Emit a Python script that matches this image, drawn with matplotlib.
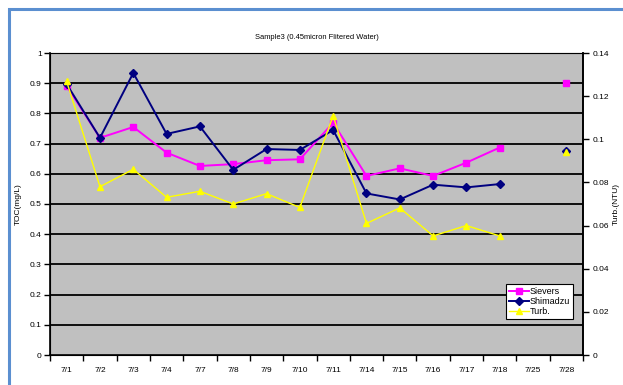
import numpy as np
import matplotlib
matplotlib.use("Agg")
import matplotlib.pyplot as plt
from matplotlib.patches import Rectangle

# Sampling dates and measured values (NaN = no sample that day)
dates = ["7/1", "7/2", "7/3", "7/4", "7/7", "7/8", "7/9", "7/10",
         "7/11", "7/14", "7/15", "7/16", "7/17", "7/18", "7/25", "7/28"]
sievers = [0.891, 0.719, 0.755, 0.670, 0.626, 0.632, 0.645, 0.648,
           0.769, 0.593, 0.618, 0.593, 0.637, 0.687, np.nan, 0.900]
shimadzu = [0.897, 0.719, 0.934, 0.732, 0.757, 0.613, 0.682, 0.679,
            0.745, 0.535, 0.515, 0.564, 0.555, 0.566, np.nan, 0.676]
turb = [0.1268, 0.0780, 0.0861, 0.0731, 0.0759, 0.0700, 0.0748, 0.0684,
        0.1109, 0.0610, 0.0682, 0.0552, 0.0600, 0.0552, np.nan, 0.0941]

plt.rcParams["font.family"] = "Liberation Sans"
plt.rcParams["font.size"] = 6

fig = plt.figure(figsize=(6.23, 3.85), dpi=100)
fig.patch.set_facecolor("white")

# blue chart-area frame (runs off the right and bottom edges)
fig.patches.append(Rectangle((9 / 623, -0.1), 1.2, 1 - 9 / 385 + 0.1,
                             transform=fig.transFigure, fill=False,
                             edgecolor="#5b8fd0", linewidth=2.2))

ax = fig.add_axes([50 / 623, 30 / 385, 533 / 623, 302 / 385])
ax.set_facecolor("#c0c0c0")
x = np.arange(len(dates))

ax.plot(x, sievers, color="#ff00ff", marker="s", ms=5, lw=1.4, label="Sievers")
ax.plot(x, shimadzu, color="#000080", marker="D", ms=3.8, lw=1.4, label="Shimadzu")

ax.set_xlim(-0.5, len(dates) - 0.5)
ax.set_ylim(0, 1)
ax.set_yticks(np.arange(0, 1.01, 0.1))
ax.set_yticklabels(["0", "0.1", "0.2", "0.3", "0.4", "0.5", "0.6", "0.7", "0.8", "0.9", "1"])
for yv in np.arange(0.1, 0.95, 0.1):
    ax.axhline(yv, color="black", lw=1.3, zorder=0.5)

# ticks on category boundaries, labels in the middle
ax.set_xticks(np.arange(-0.5, len(dates)), minor=False)
ax.set_xticklabels([])
ax.set_xticks(x, minor=True)
ax.set_xticklabels(dates, minor=True)
ax.tick_params(axis="x", which="major", direction="out", length=4, width=1)
ax.tick_params(axis="x", which="minor", length=0, pad=9)
ax.tick_params(axis="y", direction="out", length=4, width=1, pad=2)
ax.set_ylabel("TOC(mg/L)")
ax.yaxis.set_label_coords(-0.052, 0.5)

for s in ["left", "bottom", "right"]:
    ax.spines[s].set_color("black")
    ax.spines[s].set_linewidth(1.2)
ax.spines["top"].set_color("#808080")

ax2 = ax.twinx()
ax2.plot(x, turb, color="#ffff00", marker="^", ms=4.5, lw=1.0, label="Turb.")
ax2.set_ylim(0, 0.14)
ax2.set_yticks(np.arange(0, 0.141, 0.02))
ax2.set_yticklabels(["0", "0.02", "0.04", "0.06", "0.08", "0.1", "0.12", "0.14"])
ax2.tick_params(axis="y", direction="out", length=4, width=1, pad=3)
ax2.set_ylabel("Turb.(NTU)", rotation=90)
ax2.yaxis.set_label_coords(1.056, 0.5)
ax2.spines["right"].set_linewidth(1.2)

ax.set_title("Sample3 (0.45micron Flitered Water)", pad=10, fontsize=5.4)

h1, l1 = ax.get_legend_handles_labels()
h2, l2 = ax2.get_legend_handles_labels()
leg = ax2.legend(h1 + h2, l1 + l2, loc="upper left",
                 bbox_to_anchor=(506 / 623, 1 - 284 / 385),
                 bbox_transform=fig.transFigure, fancybox=False,
                 framealpha=1, edgecolor="black", borderpad=0.3,
                 labelspacing=0.15, handlelength=2.2, handletextpad=0.1,
                 borderaxespad=0, fontsize=6.5)
leg.get_frame().set_linewidth(0.8)

fig.savefig("out.png", dpi=100)
